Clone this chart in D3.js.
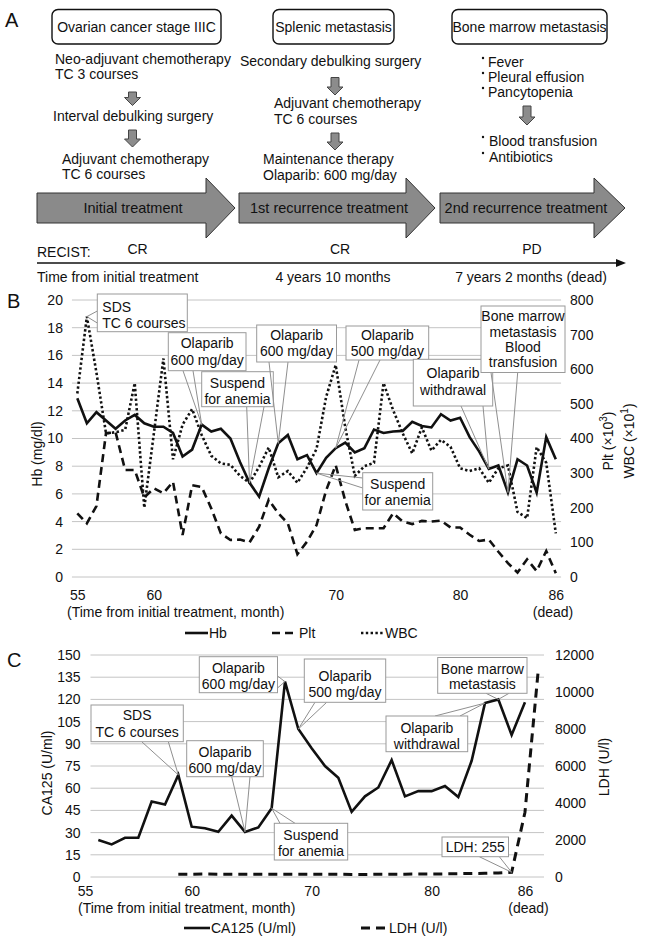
<!DOCTYPE html>
<html><head><meta charset="utf-8">
<script src="https://cdn.jsdelivr.net/npm/d3@7"></script>
<style>
body{margin:0;background:#fff}
svg{display:block}
text{font-family:"Liberation Sans",Arial,Helvetica,sans-serif;fill:#111}
</style></head>
<body><svg id="fig" width="646" height="944"></svg>
<script>
// ---------------- DATA ----------------
// Panel B: 51 measurement points (category axis), 55 .. 86 months
const tickIdxB = [0, 8, 27, 40, 50];
const tickLabB = ["55", "60", "70", "80", "86"];
const hb  = [12.9,11.1,11.9,11.3,10.7,11.3,11.7,11.1,10.85,10.85,10.4,8.7,9.2,11.0,10.5,10.7,10.0,8.3,6.8,5.8,7.85,9.65,10.25,8.5,8.8,7.5,8.6,9.3,9.7,9.0,9.3,10.65,10.4,10.5,10.55,11.2,10.9,10.8,11.75,11.3,11.5,10.1,9.05,7.8,8.05,6.1,8.5,8.05,6.1,10.1,8.5];
const plt = [184,155,205,415,418,309,309,230,256,242,275,121,265,260,198,126,107,108,100,145,223,184,155,66,102,150,250,323,220,136,141,141,141,184,160,153,162,160,163,143,143,122,104,108,73,40,13,51,17,75,11];
const wbc = [530,752,590,415,418,425,560,200,415,631,340,440,485,410,350,328,324,292,272,318,374,288,306,272,316,370,520,612,432,292,320,330,560,482,415,357,432,365,396,376,314,306,314,272,314,322,188,170,375,330,126];
const hbTicks = [0,2,4,6,8,10,12,14,16,18,20];
const rTicksB = [0,100,200,300,400,500,600,700,800];

// Panel C: 35 categories
const tickIdxC = [0, 8, 17, 26, 33];
const tickLabC = ["55", "60", "70", "80", "86"];
const ca125 = [null,25,22,26.5,26.5,51,49,69,34,33,30.5,41.5,30.5,33.5,46.5,132,100,87,75,67,44,54.5,60.5,79,54.5,58,58,61.5,54,78.5,117.5,120,96,118,null];
const ldh   = [null,null,null,null,null,null,null,150,150,160,150,150,150,150,150,150,150,150,150,150,140,140,150,150,150,160,160,170,180,190,200,220,255,3500,11200];
const caTicks  = [0,15,30,45,60,75,90,105,120,135,150];
const ldhTicks = [0,2000,4000,6000,8000,10000,12000];

// ---------------- HELPERS ----------------
const svg = d3.select("#fig");
const FONT = 14;
function txt(g, x, y, s, opt = {}) {
  return g.append("text").attr("x", x).attr("y", y)
    .attr("font-size", opt.size || FONT)
    .attr("text-anchor", opt.anchor || "start")
    .text(s);
}
function callout(g, b, target) {
  b.leaders.forEach(p => {
    g.append("line").attr("x1", p[0]).attr("y1", p[1]).attr("x2", target[0]).attr("y2", target[1])
      .attr("stroke", "#8f8f8f").attr("stroke-width", 1);
  });
  g.append("rect").attr("x", b.x).attr("y", b.y).attr("width", b.w).attr("height", b.h)
    .attr("fill", "#fff").attr("stroke", "#9a9a9a").attr("stroke-width", 1);
  b.lines.forEach((s, i) => {
    if (b.anchor === "start") txt(g, b.x + 5, b.bl[i], s);
    else txt(g, b.x + b.w / 2, b.bl[i], s, {anchor: "middle"});
  });
}

// ---------------- PANEL A ----------------
const A = svg.append("g");
txt(A, 5, 27, "A", {size: 20});
const boxesA = [
  {x: 52, w: 169, t: "Ovarian cancer stage IIIC"},
  {x: 273, w: 121, t: "Splenic metastasis"},
  {x: 452, w: 155, t: "Bone marrow metastasis"}
];
boxesA.forEach(b => {
  A.append("rect").attr("x", b.x).attr("y", 9.5).attr("width", b.w).attr("height", 34.5)
    .attr("rx", 6).attr("fill", "#fff").attr("stroke", "#111").attr("stroke-width", 1.4);
  txt(A, b.x + b.w / 2, 32, b.t, {anchor: "middle"});
});
const textA = [
  ["Neo-adjuvant chemotherapy", 55, 64], ["TC 3 courses", 55, 79],
  ["Interval debulking surgery", 53, 121],
  ["Adjuvant chemotherapy", 62, 163.5], ["TC 6 courses", 62, 179],
  ["Secondary debulking surgery", 240, 65.5],
  ["Adjuvant chemotherapy", 274, 108], ["TC 6 courses", 274, 124],
  ["Maintenance therapy", 263, 164], ["Olaparib: 600 mg/day", 263, 180],
  ["Fever", 488, 67], ["Pleural effusion", 488, 82], ["Pancytopenia", 488, 97],
  ["Blood transfusion", 489, 146], ["Antibiotics", 489, 162]
];
textA.forEach(d => txt(A, d[1], d[2], d[0]));
[67, 82, 97, 146, 162].forEach(y => {
  A.append("circle").attr("cx", 483).attr("cy", y - 9).attr("r", 1.2).attr("fill", "#111");
});
function downArrow(cx, y0, y1) {
  const hl = 8;
  const p = `M${cx-4},${y0} L${cx+4},${y0} L${cx+4},${y1-hl} L${cx+8},${y1-hl} L${cx},${y1} L${cx-8},${y1-hl} L${cx-4},${y1-hl} Z`;
  A.append("path").attr("d", p).attr("fill", "#8c8c8c").attr("stroke", "#444").attr("stroke-width", 1);
}
downArrow(132.5, 92, 105.5); downArrow(132.5, 130, 147);
downArrow(335, 77.5, 95); downArrow(335, 133, 150);
downArrow(527, 106, 125);
function bigArrow(x0, x1, xt, label, lx) {
  const yc = 208, bh = 15, hh = 30;
  const p = `M${x0},${yc-bh} L${x1},${yc-bh} L${x1},${yc-hh} L${xt},${yc} L${x1},${yc+hh} L${x1},${yc+bh} L${x0},${yc+bh} Z`;
  A.append("path").attr("d", p).attr("fill", "#8a8a8a").attr("stroke", "#333").attr("stroke-width", 1);
  txt(A, lx, 213, label, {anchor: "middle", size: 14.5});
}
bigArrow(37, 206, 235, "Initial treatment", 133);
bigArrow(239, 406, 435, "1st recurrence treatment", 329);
bigArrow(440, 594, 625, "2nd recurrence treatment", 526);
txt(A, 37, 256.5, "RECIST:");
txt(A, 137.5, 254, "CR", {anchor: "middle"});
txt(A, 340, 254, "CR", {anchor: "middle"});
txt(A, 532, 254, "PD", {anchor: "middle"});
A.append("line").attr("x1", 37).attr("x2", 618).attr("y1", 263).attr("y2", 263).attr("stroke", "#111").attr("stroke-width", 1.5);
A.append("path").attr("d", "M626,263 L616,259 L616,267 Z").attr("fill", "#111");
txt(A, 37, 282, "Time from initial treatment");
txt(A, 333, 282, "4 years 10 months", {anchor: "middle"});
txt(A, 531, 282, "7 years 2 months (dead)", {anchor: "middle"});

// ---------------- PANEL B ----------------
const B = svg.append("g");
txt(B, 7, 308, "B", {size: 20});
const xB = d3.scaleLinear().domain([0, 50]).range([77.3, 555.8]);
const yHb = d3.scaleLinear().domain([0, 20]).range([577, 300]);
const yR = d3.scaleLinear().domain([0, 800]).range([577, 300]);
const gx0B = xB(-0.56), gx1B = xB(50.55);
B.selectAll("line.grid").data(hbTicks).enter().append("line")
  .attr("x1", gx0B).attr("x2", gx1B).attr("y1", d => yHb(d)).attr("y2", d => yHb(d))
  .attr("stroke", "#c4c4c4").attr("stroke-width", 1);
const axL = B.append("g").attr("transform", `translate(${gx0B},0)`)
  .call(d3.axisLeft(yHb).tickValues(hbTicks).tickFormat(d3.format("d")).tickSize(0).tickPadding(9));
const axR = B.append("g").attr("transform", `translate(${gx1B},0)`)
  .call(d3.axisRight(yR).tickValues(rTicksB).tickFormat(d3.format("d")).tickSize(0).tickPadding(9));
const axXB = B.append("g").attr("transform", "translate(0,586)")
  .call(d3.axisBottom(xB).tickValues(tickIdxB).tickFormat((d, i) => tickLabB[i]).tickSize(0).tickPadding(4));
[axL, axR, axXB].forEach(a => {
  a.select(".domain").remove();
  a.selectAll("text").attr("font-size", FONT).attr("font-family", '"Liberation Sans",Arial,sans-serif').attr("fill", "#111");
});
const lineB = (sc, arr) => d3.line().defined(d => d != null).x((d, i) => xB(i)).y(d => sc(d))(arr);
B.append("path").attr("d", lineB(yR, plt)).attr("fill", "none").attr("stroke", "#111").attr("stroke-width", 2.6).attr("stroke-dasharray", "8,5");
B.append("path").attr("d", lineB(yR, wbc)).attr("fill", "none").attr("stroke", "#111").attr("stroke-width", 2.6).attr("stroke-dasharray", "2.4,2.4");
B.append("path").attr("d", lineB(yHb, hb)).attr("fill", "none").attr("stroke", "#111").attr("stroke-width", 2.6).attr("stroke-linejoin", "miter");

txt(B, 0, 0, "Hb (mg/dl)", {anchor: "middle"}).attr("transform", "translate(42,454) rotate(-90)");
const pt = txt(B, 0, 0, "Plt (×10", {anchor: "middle"}).attr("transform", "translate(613,441) rotate(-90)");
pt.append("tspan").attr("dy", -6).attr("font-size", 10).text("3");
pt.append("tspan").attr("dy", 6).text(")");
const wt = txt(B, 0, 0, "WBC (×10", {anchor: "middle"}).attr("transform", "translate(634,441) rotate(-90)");
wt.append("tspan").attr("dy", -6).attr("font-size", 10).text("1");
wt.append("tspan").attr("dy", 6).text(")");
txt(B, 67, 617, "(Time from initial treatment, month)");
txt(B, 553, 617, "(dead)", {anchor: "middle"});
// legend B
B.append("line").attr("x1", 185).attr("x2", 208).attr("y1", 633).attr("y2", 633).attr("stroke", "#111").attr("stroke-width", 2.6);
txt(B, 209, 638, "Hb");
B.append("line").attr("x1", 272).attr("x2", 298).attr("y1", 633).attr("y2", 633).attr("stroke", "#111").attr("stroke-width", 2.6).attr("stroke-dasharray", "8,5");
txt(B, 299, 638, "Plt");
B.append("line").attr("x1", 361).attr("x2", 384).attr("y1", 633).attr("y2", 633).attr("stroke", "#111").attr("stroke-width", 2.6).attr("stroke-dasharray", "2.4,2.4");
txt(B, 385, 638, "WBC");

const calloutsB = [
  {box: {x: 97.3, y: 294, w: 90, h: 37.7, lines: ["SDS", "TC 6 courses"], bl: [311.5, 327.5], anchor: "start", leaders: [[97.3, 311], [97.3, 323]]}, t: [xB(1), yR(wbc[1])]},
  {box: {x: 168.3, y: 332.7, w: 77.7, h: 38, lines: ["Olaparib", "600 mg/day"], bl: [348, 364.5], leaders: [[183, 370.7], [193, 370.7]]}, t: [xB(13), yHb(hb[13])]},
  {box: {x: 201.7, y: 371.7, w: 71.6, h: 35, lines: ["Suspend", "for anemia"], bl: [387.5, 403.5], leaders: [[246.7, 406.7], [264, 406.7]]}, t: [xB(18), yHb(hb[18])]},
  {box: {x: 256.7, y: 325, w: 79.8, h: 37, lines: ["Olaparib", "600 mg/day"], bl: [340, 356], leaders: [[269, 362], [288, 362]]}, t: [xB(21), yHb(hb[21])]},
  {box: {x: 346, y: 326, w: 82.7, h: 34, lines: ["Olaparib", "500 mg/day"], bl: [340, 356], leaders: [[359, 360], [380, 360]]}, t: [xB(27), yHb(hb[27])]},
  {box: {x: 362.7, y: 472.7, w: 70, h: 37.3, lines: ["Suspend", "for anemia"], bl: [489, 505], leaders: [[362.7, 478], [362.7, 488]]}, t: [xB(25), yHb(hb[25])]},
  {box: {x: 413.3, y: 359.3, w: 79.4, h: 46.7, lines: ["Olaparib", "withdrawal"], bl: [378, 395], leaders: [[461, 406], [483, 406]]}, t: [xB(43), yHb(hb[43])]},
  {box: {x: 481, y: 306, w: 84, h: 66.5, lines: ["Bone marrow", "metastasis", "Blood", "transfusion"], bl: [321, 337, 352, 366.5], leaders: [[491, 372.5], [517.7, 372.5]]}, t: [xB(45), yHb(hb[45])]}
];
calloutsB.forEach(c => callout(B, c.box, c.t));

// ---------------- PANEL C ----------------
const C = svg.append("g");
txt(C, 7, 667, "C", {size: 20});
const xC = d3.scaleLinear().domain([0, 34]).range([85, 538.3]);
const yCA = d3.scaleLinear().domain([0, 150]).range([877, 655]);
const yL = d3.scaleLinear().domain([0, 12000]).range([877, 655]);
const gx0C = 90.5, gx1C = 544;
C.selectAll("line.grid").data(caTicks).enter().append("line")
  .attr("x1", gx0C).attr("x2", gx1C).attr("y1", d => yCA(d)).attr("y2", d => yCA(d))
  .attr("stroke", "#c4c4c4").attr("stroke-width", 1);
const axLC = C.append("g").attr("transform", `translate(${gx0C},0)`)
  .call(d3.axisLeft(yCA).tickValues(caTicks).tickFormat(d3.format("d")).tickSize(0).tickPadding(10));
const axRC = C.append("g").attr("transform", `translate(${gx1C},0)`)
  .call(d3.axisRight(yL).tickValues(ldhTicks).tickFormat(d3.format("d")).tickSize(0).tickPadding(11));
const axXC = C.append("g").attr("transform", "translate(0,882)")
  .call(d3.axisBottom(xC).tickValues(tickIdxC).tickFormat((d, i) => tickLabC[i]).tickSize(0).tickPadding(4));
[axLC, axRC, axXC].forEach(a => {
  a.select(".domain").remove();
  a.selectAll("text").attr("font-size", FONT).attr("font-family", '"Liberation Sans",Arial,sans-serif').attr("fill", "#111");
});
const lineC = (sc, arr) => d3.line().defined(d => d != null).x((d, i) => xC(i)).y(d => sc(d))(arr);
C.append("path").attr("d", lineC(yL, ldh)).attr("fill", "none").attr("stroke", "#111").attr("stroke-width", 3).attr("stroke-dasharray", "9,6");
C.append("path").attr("d", lineC(yCA, ca125)).attr("fill", "none").attr("stroke", "#111").attr("stroke-width", 2.6);

txt(C, 0, 0, "CA125 (U/ml)", {anchor: "middle"}).attr("transform", "translate(52,773) rotate(-90)");
txt(C, 0, 0, "LDH (U/l)", {anchor: "middle"}).attr("transform", "translate(609,767) rotate(-90)");
txt(C, 78, 913, "(Time from initial treatment, month)");
txt(C, 528.5, 913, "(dead)", {anchor: "middle"});
C.append("line").attr("x1", 184).attr("x2", 210).attr("y1", 928).attr("y2", 928).attr("stroke", "#111").attr("stroke-width", 2.6);
txt(C, 211, 933, "CA125 (U/ml)");
C.append("line").attr("x1", 361).attr("x2", 388).attr("y1", 928).attr("y2", 928).attr("stroke", "#111").attr("stroke-width", 3).attr("stroke-dasharray", "9,6");
txt(C, 389, 933, "LDH (U/l)");

const calloutsC = [
  {box: {x: 91, y: 705, w: 92.3, h: 36.7, lines: ["SDS", "TC 6 courses"], bl: [720, 736.5], leaders: [[141.7, 741.7], [168.3, 741.7]]}, t: [xC(7), yCA(ca125[7])]},
  {box: {x: 186.7, y: 740.7, w: 76.6, h: 36, lines: ["Olaparib", "600 mg/day"], bl: [757, 772.5], leaders: [[231.7, 776.7], [250, 776.7]]}, t: [xC(12), yCA(ca125[12])]},
  {box: {x: 199.3, y: 656.7, w: 78.2, h: 36, lines: ["Olaparib", "600 mg/day"], bl: [673, 688.5], leaders: [[277.5, 676], [277.5, 688]]}, t: [xC(15), yCA(ca125[15])]},
  {box: {x: 304.3, y: 659, w: 81.4, h: 43.3, lines: ["Olaparib", "500 mg/day"], bl: [681, 697], leaders: [[315, 702.3], [326.7, 702.3]]}, t: [xC(16), yCA(ca125[16])]},
  {box: {x: 274.3, y: 823.3, w: 73.4, h: 36.7, lines: ["Suspend", "for anemia"], bl: [840, 856], leaders: [[280, 823.3], [295, 823.3]]}, t: [xC(14), yCA(ca125[14])]},
  {box: {x: 386, y: 716, w: 81.7, h: 35.7, lines: ["Olaparib", "withdrawal"], bl: [733, 748.5], leaders: [[435, 716], [460, 716]]}, t: [xC(30), yCA(ca125[30])]},
  {box: {x: 437.7, y: 657.5, w: 89.3, h: 35.8, lines: ["Bone marrow", "metastasis"], bl: [674, 689], leaders: [[486, 693.3], [509, 693.3]]}, t: [xC(31), yCA(ca125[31])]},
  {box: {x: 442, y: 837, w: 66.5, h: 19.7, lines: ["LDH: 255"], bl: [851.5], leaders: [[479.3, 856.7], [499.3, 856.7]]}, t: [xC(32), yL(ldh[32])]}
];
calloutsC.forEach(c => callout(C, c.box, c.t));
</script></body></html>
